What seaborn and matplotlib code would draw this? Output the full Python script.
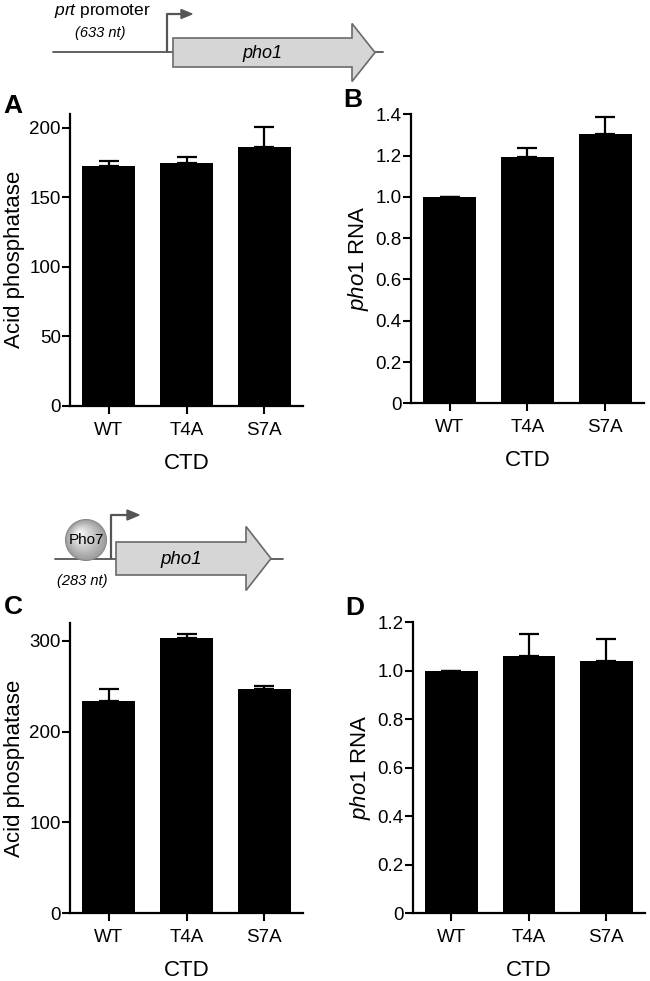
import matplotlib
matplotlib.use("Agg")
import matplotlib.pyplot as plt
import seaborn as sns
import numpy as np
from matplotlib.patches import Polygon, Circle

sns.set_theme(style="ticks")
plt.rcParams['font.family'] = ['Liberation Sans', 'DejaVu Sans']
plt.rcParams['mathtext.fontset'] = 'custom'
plt.rcParams['mathtext.rm'] = 'Liberation Sans'
plt.rcParams['mathtext.it'] = 'Liberation Sans:italic'
plt.rcParams['text.color'] = 'black'
plt.rcParams['axes.labelcolor'] = 'black'

# ---------------- data ----------------
categories = ["WT", "T4A", "S7A"]
a_values = [172.5, 174.8, 186.5]
a_err = [4.0, 4.2, 14.0]
b_values = [1.0, 1.195, 1.305]
b_err = [0.0, 0.04, 0.083]
c_values = [234.0, 303.0, 247.0]
c_err = [13.0, 5.0, 3.5]
d_values = [1.0, 1.062, 1.042]
d_err = [0.0, 0.09, 0.088]

fig = plt.figure(figsize=(6.5, 9.81), dpi=100)
W, H = 650, 981

def add_ax(left, top, right, bottom):
    return fig.add_axes([left / W, 1 - bottom / H, (right - left) / W, (bottom - top) / H])

panels = [
    ("A", add_ax(70, 114, 303, 405.7), a_values, a_err, (0, 210), [0, 50, 100, 150, 200],
     ["0", "50", "100", "150", "200"], "Acid phosphatase", (13, 106)),
    ("B", add_ax(410.7, 114.3, 644, 403.3), b_values, b_err, (0, 1.4),
     [0, 0.2, 0.4, 0.6, 0.8, 1.0, 1.2, 1.4],
     ["0", "0.2", "0.4", "0.6", "0.8", "1.0", "1.2", "1.4"], r"$\mathit{pho1}$ RNA", (353, 100)),
    ("C", add_ax(70, 622.7, 303, 913.3), c_values, c_err, (0, 320), [0, 100, 200, 300],
     ["0", "100", "200", "300"], "Acid phosphatase", (13, 607)),
    ("D", add_ax(412.7, 622.3, 645, 913.3), d_values, d_err, (0, 1.2),
     [0, 0.2, 0.4, 0.6, 0.8, 1.0, 1.2],
     ["0", "0.2", "0.4", "0.6", "0.8", "1.0", "1.2"], r"$\mathit{pho1}$ RNA", (355, 608)),
]

for letter, ax, vals, errs, ylim, yt, ytl, ylabel, lpos in panels:
    sns.barplot(x=categories, y=vals, color="black", saturation=1, width=0.68,
                edgecolor="black", linewidth=0, ax=ax, errorbar=None)
    xs = np.arange(len(categories))
    ax.errorbar(xs, vals, yerr=[np.zeros(len(errs)), errs], fmt="none",
                ecolor="black", elinewidth=1.6, capsize=7.5, capthick=1.6, zorder=3)
    ax.set_xlim(-0.5, 2.5)
    ax.set_ylim(*ylim)
    ax.set_yticks(yt)
    ax.set_yticklabels(ytl)
    ax.set_ylabel(ylabel, fontsize=16, labelpad=3)
    ax.set_xlabel("CTD", fontsize=16, labelpad=10)
    ax.tick_params(axis="both", labelsize=13.5, width=1.5, length=5.5, direction="out",
                   colors="black", labelcolor="black")
    ax.tick_params(axis="x", pad=6)
    ax.tick_params(axis="y", pad=1)
    for s in ["top", "right"]:
        ax.spines[s].set_visible(False)
    for s in ["left", "bottom"]:
        ax.spines[s].set_linewidth(1.6)
        ax.spines[s].set_color("black")
    ax.set_facecolor("white")
    fig.text(lpos[0] / W, 1 - lpos[1] / H, letter, fontsize=19, fontweight="bold",
             ha="center", va="center")

# --------------- schematic diagrams -----------------
dax = fig.add_axes([0, 0, 1, 1], zorder=-1)
dax.set_xlim(0, W)
dax.set_ylim(H, 0)
dax.axis("off")
dax.patch.set_alpha(0)

gray_line = "#555555"
fill = "#d6d6d6"
edge = "#6a6a6a"

def gene_arrow(x0, x1, xtip, yc, half_body, half_head):
    pts = [(x0, yc - half_body), (x1, yc - half_body), (x1, yc - half_head), (xtip, yc),
           (x1, yc + half_head), (x1, yc + half_body), (x0, yc + half_body)]
    dax.add_patch(Polygon(pts, closed=True, facecolor=fill, edgecolor=edge, lw=1.2, zorder=3))

# top diagram
dax.plot([53, 383], [52, 52], color=gray_line, lw=1.3, zorder=1)
gene_arrow(173, 352, 375, 52.5, 14.5, 29)
dax.plot([167, 167, 182], [52, 14, 14], color=gray_line, lw=1.6, solid_capstyle="butt", zorder=2)
dax.add_patch(Polygon([(181, 9.5), (192, 14), (181, 18.5)], closed=True, color=gray_line, zorder=2))
dax.text(102, 11, r"$\mathit{prt}$ promoter", fontsize=12.5, ha="center", va="center")
dax.text(100, 33, "(633 nt)", fontsize=10.5, style="italic", ha="center", va="center")
dax.text(262, 53, "pho1", fontsize=13, style="italic", ha="center", va="center", zorder=4)

# bottom diagram
dax.plot([55, 283], [559, 559], color=gray_line, lw=1.3, zorder=1)
gene_arrow(116, 246, 271, 558.5, 16.5, 32)
dax.plot([111, 111, 128], [559, 515, 515], color=gray_line, lw=1.6, solid_capstyle="butt", zorder=2)
dax.add_patch(Polygon([(127, 510), (139, 515), (127, 520)], closed=True, color=gray_line, zorder=2))
cx, cy, r = 86, 540, 20.5
for i, g in enumerate(np.linspace(0.62, 0.97, 12)):
    rr = r * (1 - i / 12.5)
    off = (r - rr) * 0.35
    dax.add_patch(Circle((cx - off, cy - off), rr, facecolor=(g, g, g), edgecolor="none", zorder=3))
dax.add_patch(Circle((cx, cy), r, facecolor="none", edgecolor="#8a8a8a", lw=0.8, zorder=3))
dax.text(cx, cy, "Pho7", fontsize=11, ha="center", va="center", zorder=4)
dax.text(82, 581, "(283 nt)", fontsize=10.5, style="italic", ha="center", va="center")
dax.text(181, 559, "pho1", fontsize=13.5, style="italic", ha="center", va="center", zorder=4)

fig.savefig("out.png", dpi=100, facecolor="white")
